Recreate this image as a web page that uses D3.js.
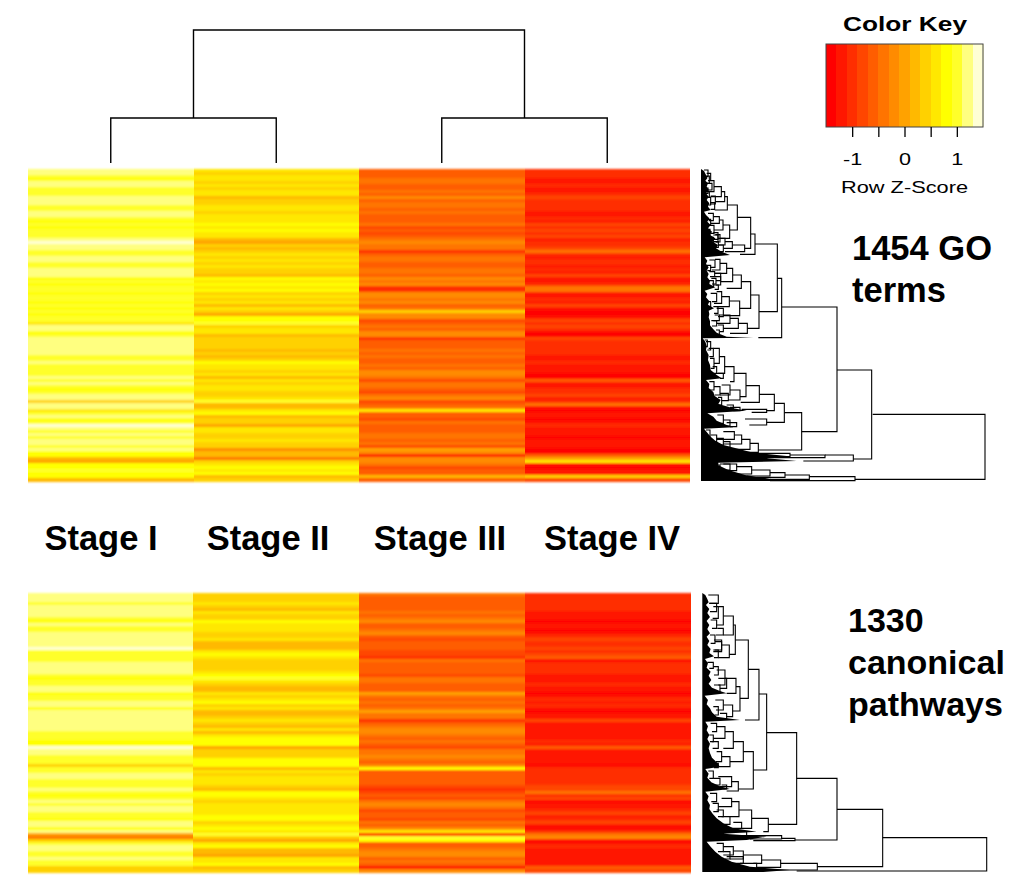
<!DOCTYPE html>
<html><head><meta charset="utf-8">
<script src="https://cdn.jsdelivr.net/npm/d3@7/dist/d3.min.js"></script>
<style>html,body{margin:0;padding:0;background:#fff}svg{display:block}text{font-family:"Liberation Sans",Arial,sans-serif;fill:#000}</style>
</head><body><svg id="c" width="1024" height="886"></svg>
<script>
const stages = ["Stage I","Stage II","Stage III","Stage IV"];
const heatPalette = ["#FF0000","#FF1700","#FF2E00","#FF4600","#FF5D00","#FF7400","#FF8B00","#FFA200","#FFB900","#FFD100","#FFE800","#FFFF00","#FFFF2A","#FFFF80","#FFFFD5"];
const keyTicks = [-1,-0.5,0,0.5,1];
const keyTickLabels = ["-1","","0","","1"];

const goStageI = [1.2,1.2,1.0,0.8,1.2,1.2,1.0,1.0,1.0,1.2,1.2,1.2,1.0,1.0,1.2,1.2,1.0,0.8,1.0,0.8,1.0,1.0,1.0,1.2,1.4,1.2,1.2,1.0,1.0,1.2,1.2,1.0,1.0,1.2,1.2,1.2,0.8,1.0,0.8,1.0,1.0,0.8,1.0,1.0,0.8,1.0,0.8,1.0,0.8,1.0,1.0,0.6,1.2,1.2,
0.8,1.0,1.2,1.2,1.2,1.2,1.2,1.2,1.0,1.0,1.2,1.0,1.0,1.0,1.0,1.2,1.0,1.2,1.0,0.8,1.0,1.2,1.2,0.4,1.2,1.2,0.6,1.0,1.2,0.8,1.0,1.4,1.2,1.0,1.2,1.0,1.2,1.2,1.0,1.2,0.8,0.8,0.2,0.0,0.8,0.8,1.0,0.8,0.8,0.2];
const goStageII = [0.6,0.4,0.6,0.6,0.4,0.6,0.4,0.6,0.6,0.2,0.4,0.4,0.6,0.6,0.4,0.6,0.6,0.6,0.8,0.6,0.8,0.6,0.6,0.2,0.0,0.4,0.2,0.4,0.6,0.4,0.6,0.4,0.6,0.4,0.4,0.2,0.8,0.6,0.8,0.6,0.8,0.4,0.6,0.4,0.6,0.2,0.6,0.4,0.0,0.8,0.8,1.0,0.4,0.6,
0.6,0.2,0.4,0.4,0.4,0.4,0.2,0.4,0.2,0.4,0.8,0.6,0.6,0.4,0.6,0.2,0.6,0.4,0.6,0.6,0.4,0.4,0.6,1.0,0.2,0.2,0.6,0.8,0.2,0.4,0.4,0.0,0.6,0.6,0.4,0.4,0.6,0.4,0.4,-0.2,0.2,0.2,-0.4,0.4,0.6,0.8,0.6,0.8,0.2,0.4];
const goStageIII = [-0.6,-0.6,-0.6,-0.4,-0.4,-0.6,-0.6,-0.4,-0.6,-0.2,-0.6,-0.4,-0.4,-0.6,-0.4,-0.6,-0.6,-0.6,-0.4,-0.8,-0.6,-0.8,-0.6,-0.4,-0.2,-0.4,-0.4,-1.0,-0.6,-0.4,-0.4,-0.6,-0.6,-0.4,-0.4,-0.6,-0.2,-0.4,-0.2,-1.0,-1.0,-0.2,-0.2,-0.4,-0.2,-0.6,-0.4,0.4,-0.2,-0.2,-0.8,-0.6,-0.4,-0.6,
-0.2,-0.2,-1.0,-0.6,-0.6,-0.6,-0.4,-0.6,-0.4,-0.6,-0.6,-0.4,-0.6,-0.2,-0.2,-0.4,-0.8,-0.4,-0.4,-0.6,-0.8,-0.4,-0.2,-0.8,-0.6,-0.4,0.6,-0.6,-0.6,-0.8,-0.4,-0.6,-0.6,-0.6,-0.4,-0.4,-0.6,-0.4,-0.8,0.0,-0.2,-1.2,-0.2,-0.2,-0.4,-0.8,-0.6,-0.6,0.2,-0.6];
const goStageIV = [-1.0,-1.0,-1.0,-1.2,-1.2,-1.0,-1.2,-1.2,-1.0,-0.8,-1.0,-1.0,-1.0,-1.0,-1.2,-1.2,-1.0,-1.2,-0.8,-1.0,-0.8,-1.0,-0.8,-1.2,-1.0,-1.0,-0.8,-0.4,-1.0,-1.2,-1.0,-1.0,-1.2,-1.0,-1.2,-0.8,-1.2,-1.2,-1.0,-0.4,-0.4,-1.2,-1.2,-1.0,-1.2,-0.8,-1.2,-1.4,-1.4,-1.2,-0.8,-1.0,-0.8,-1.0,
-1.4,-1.4,-0.8,-1.0,-1.0,-1.0,-1.0,-1.0,-1.2,-1.2,-1.0,-1.2,-1.2,-1.2,-1.4,-1.4,-0.6,-1.2,-1.2,-1.0,-1.0,-0.8,-1.2,-1.0,-0.4,-1.2,-1.4,-1.2,-1.2,-1.4,-1.2,-1.0,-1.2,-1.2,-1.2,-1.4,-1.2,-1.2,-1.2,-1.4,-1.4,-0.6,0.0,0.6,-1.2,-1.4,-1.2,-1.2,0.4,-0.8];

const cpStageI = [1.2,1.2,1.2,1.0,1.2,1.2,1.2,1.2,1.0,0.8,1.2,1.0,1.0,1.2,1.2,1.2,1.2,1.2,1.4,1.0,1.0,1.0,1.0,1.2,1.2,1.2,1.2,1.0,0.8,1.0,1.0,1.2,1.2,0.8,1.0,1.0,1.2,1.2,0.8,1.2,1.2,1.2,1.2,1.2,1.2,1.2,1.0,
1.0,1.0,0.8,0.8,1.4,1.2,1.2,1.0,1.0,1.0,0.4,1.0,1.0,1.2,1.2,1.0,1.0,1.0,1.2,1.0,0.8,1.0,1.2,1.0,1.2,1.2,1.0,1.0,0.8,1.2,1.2,0.8,1.2,0.0,-0.4,0.4,1.0,1.2,1.2,1.0,1.0,1.2,1.0,1.0,0.4,0.4];
const cpStageII = [0.4,0.4,0.4,0.6,0.4,0.2,0.6,0.4,0.4,0.8,0.6,0.6,0.6,0.4,0.4,0.6,0.2,0.2,0.2,0.6,0.8,0.6,0.4,0.4,0.4,0.4,0.6,0.8,1.0,0.6,0.4,0.2,0.2,0.6,0.4,0.6,0.8,0.4,0.6,0.2,0.2,0.4,0.6,0.4,0.2,0.6,0.2,
0.6,0.8,0.8,0.8,0.0,0.4,0.4,0.4,0.8,0.8,0.8,0.2,0.6,0.4,0.6,0.6,0.6,0.4,0.2,0.8,0.8,0.6,0.4,0.6,0.6,0.6,0.6,0.8,0.8,0.4,0.6,0.8,0.6,1.0,0.4,0.0,0.6,0.8,0.2,0.2,0.0,0.6,0.6,0.8,0.2,0.4];
const cpStageIII = [-0.4,-0.6,-0.6,-0.6,-0.6,-0.6,-0.4,-0.6,-0.4,-0.2,-0.6,-0.6,-0.4,-0.2,-0.6,-0.8,-0.6,-0.6,-0.6,-0.8,-0.8,-1.0,-0.4,-0.6,-0.6,-0.6,-0.6,-0.8,-0.4,-0.4,-0.6,-0.6,-0.6,0.0,-0.4,-0.6,-0.4,-0.6,-0.4,0.0,-0.4,-0.4,-1.0,-0.6,-0.4,-0.2,-0.2,
-0.4,-0.6,-0.4,-0.6,-0.8,-0.4,-0.4,-0.2,-0.4,-0.6,-0.2,0.8,-0.6,-0.6,-0.6,-0.6,-0.6,-0.8,-1.0,-0.8,-0.6,-0.8,-0.4,-0.2,-0.4,-0.8,-0.6,-0.6,-0.8,-0.4,-0.6,-0.2,0.6,-1.2,1.0,0.8,-0.6,-0.6,-0.4,-0.2,-0.2,-0.6,-0.4,-0.6,-1.4,-0.2];
const cpStageIV = [-1.0,-1.0,-1.0,-1.0,-1.0,-1.0,-1.2,-1.2,-1.2,-1.4,-1.2,-1.2,-1.4,-1.2,-1.0,-0.8,-1.0,-1.0,-0.8,-1.0,-0.8,-0.6,-1.4,-1.0,-1.0,-1.0,-1.0,-1.2,-1.2,-1.2,-1.0,-1.2,-1.2,-1.4,-1.2,-1.0,-1.2,-1.0,-1.2,-1.4,-1.2,-1.2,-0.8,-1.2,-1.2,-1.2,-1.2,
-1.2,-1.2,-1.0,-1.2,-0.6,-1.2,-1.2,-1.2,-1.2,-1.2,-1.4,-1.0,-1.0,-1.0,-1.0,-1.0,-1.0,-0.8,-0.8,-0.4,-1.0,-0.8,-1.4,-1.2,-1.2,-1.0,-0.8,-1.2,-1.0,-0.8,-1.2,-1.4,-1.0,-0.4,-0.2,-1.4,-1.2,-1.0,-1.2,-1.2,-1.2,-1.2,-1.2,-1.2,-0.6,-0.8];

// merges: height, upper leaf position, lower leaf position, height of upper child, height of lower child
const goMerges = [[885,763,958,548,495],[545,630,897,441,490],[441,441,815,275,335],[275,355,533,262,205],[262,252,455,195,207],[195,222,283,182,150],[182,172,265,142,164],[142,135,210,112,119],[112,110,150,104,74],[104,95,125,94,76],[94,80,110,72,62],[72,62,95,62,58],[119,195,235,99,84],[99,180,210,88,72],[88,170,190,70,62],[84,225,245,70,72],[164,255,275,127,105],[127,245,265,105,100],[105,235,255,90,85],[207,405,505,182,172],[182,365,445,154,149],[154,345,385,128,110],[128,325,365,110,92],[110,310,340,90,75],[92,350,375,74,78],[149,423,467,118,100],[118,410,440,95,80],[172,490,520,145,120],[145,475,505,120,100],[120,465,490,88,80],[335,758,870,283,205],[283,730,787,253,230],[253,703,752,208,230],[208,677,727,168,152],[168,640,710,132,150],[132,620,665,104,120],[104,590,640,88,80],[88,565,610,70,72],[150,690,720,120,115],[120,675,705,95,90],[230,748,757,155,185],[230,777,795,165,178],[205,850,877,180,150],[180,838,868,155,120],[155,825,852,133,100],[133,815,838,100,80],[490,885,903,405,340],[405,885,893,300,190],[300,880,890,190,140],[495,950,962,358,240],[358,945,958,285,240],[285,938,952,240,200],[240,930,948,185,170],[185,920,942,140,120],[140,912,932,100,90],
[62,40,62,50,54],[58,95,112,50,52],[62,112,135,52,56],[74,128,148,60,62],[76,108,132,62,60],[58,48,70,48,50],[54,30,50,42,46],[66,70,90,50,54],[54,84,100,46,48],[70,160,182,54,56],[62,178,196,50,54],[72,196,220,60,62],[60,208,228,50,54],[84,218,238,70,66],[70,232,250,60,66],[90,224,246,76,78],[100,255,275,84,90],[85,245,262,70,74],[75,300,322,58,60],[90,298,330,75,66],[62,316,332,48,52],[92,340,362,74,78],[78,355,372,64,66],[74,335,350,58,60],[85,375,388,72,74],[70,362,380,56,60],[80,400,425,62,66],[95,395,430,80,72],[62,425,440,50,54],[100,445,470,80,84],[84,440,460,70,72],[88,465,482,74,70],[80,482,498,64,66],[100,495,515,84,90],[88,510,525,78,80],[52,540,560,44,46],[70,565,590,56,58],[62,545,570,48,52],[72,595,625,60,62],[80,620,640,68,70],[100,640,655,84,90],[72,665,690,58,60],[90,680,705,72,74],[115,700,722,90,96],[95,712,735,84,80],[130,735,748,110,100],[150,742,752,120,130],[100,765,790,82,84],[120,780,798,100,110],[140,788,800,110,120],[60,810,830,48,50],[80,825,845,62,66],[100,835,855,80,90],[120,845,862,100,110],[120,912,930,90,95],[90,915,925,70,80]];
const goFringe = [[27,33],[33,42],[45,48],[55,52],[62,46],[70,54],[80,50],[90,56],[100,48],[110,56],[120,50],[130,58],[140,54],[150,62],[155,42],[165,48],[175,58],[185,52],[195,62],[205,54],[215,66],[225,60],[235,76],[245,68],[255,84],[265,78],[275,95],[285,120],[292,44],[302,52],[312,48],[322,56],[332,50],[342,56],[352,52],[362,60],[372,58],[382,76],[392,44],[402,52],[412,48],[424,58],[434,54],[445,72],[452,56],[462,58],[472,56],[484,60],[496,60],[508,70],[518,80],[530,110],[533,190],[535,38],[545,46],[558,50],[570,48],[585,56],[600,54],[615,60],[630,62],[645,80],[655,95],[660,48],[672,58],[684,56],[696,70],[708,74],[720,92],[732,85],[745,130],[752,170],[760,52],[770,70],[782,80],[795,110],[802,130],[806,42],[818,52],[830,62],[842,76],[855,100],[868,150],[878,190],[888,290],[895,230],[903,320],[908,85],[916,85],[930,115],[945,165],[955,230],[963,280]];
const cpMerges = [[890,758,858,578,320],[578,673,845,441,382],[382,835,855,272,240],[272,825,847,215,200],[215,810,835,160,190],[160,798,822,130,120],[130,785,810,100,100],[441,580,765,320,315],[320,443,718,230,235],[230,327,555,207,190],[207,253,405,175,165],[175,165,340,136,150],[136,120,208,130,118],[130,93,150,100,100],[100,65,120,85,80],[118,180,218,95,85],[95,170,200,75,70],[150,305,378,138,128],[138,280,325,105,110],[105,255,300,80,85],[128,360,395,100,110],[190,500,612,160,145],[160,470,530,130,120],[130,440,490,105,100],[105,425,460,80,70],[120,515,545,95,85],[145,590,618,125,110],[125,575,605,85,90],[235,700,740,185,220],[185,675,730,147,155],[147,650,695,125,120],[125,640,665,95,85],[315,760,767,275,190],[275,752,762,170,180],
[85,30,55,55,58],[80,55,80,58,60],[85,65,100,70,68],[80,105,130,62,66],[100,130,150,82,78],[75,150,175,60,62],[95,165,195,72,74],[85,195,218,70,72],[70,232,250,52,58],[85,245,270,70,72],[110,280,310,85,90],[90,300,322,72,80],[100,345,375,76,78],[85,365,390,70,74],[110,385,402,90,95],[80,415,440,62,66],[70,450,470,58,60],[85,470,490,65,68],[95,500,530,80,78],[85,535,548,70,72],[70,558,580,55,58],[90,580,600,70,72],[110,600,612,95,100],[80,625,650,60,64],[85,655,680,68,70],[100,675,695,80,84],[120,695,718,95,100],[155,712,730,130,120],[170,740,752,120,140],[100,775,800,80,84],[120,800,822,100,105],[160,815,835,110,120],[200,835,850,150,170]];
const cpFringe = [[24,37],[30,46],[42,52],[52,56],[60,48],[72,58],[84,52],[96,60],[108,50],[120,58],[132,52],[145,60],[155,50],[168,58],[180,52],[192,62],[204,58],[214,72],[222,45],[235,54],[248,50],[260,62],[272,56],[285,64],[296,56],[308,66],[318,90],[325,110],[332,44],[345,54],[358,50],[370,60],[382,66],[395,80],[405,150],[410,46],[424,54],[436,50],[450,58],[462,52],[476,60],[490,56],[504,60],[518,66],[532,80],[545,90],[552,46],[566,56],[578,52],[592,64],[604,90],[612,120],[620,46],[634,56],[646,52],[660,60],[672,58],[686,68],[700,80],[715,100],[730,130],[740,200],[746,100],[755,230],[765,170],[770,50],[785,62],[800,76],[815,95],[830,125],[845,180],[855,300],[861,220]];
const stageTree = {height:133, children:[{height:45, children:[{height:0,name:stages[0]},{height:0,name:stages[1]}]},{height:45, children:[{height:0,name:stages[2]},{height:0,name:stages[3]}]}]};

const svg = d3.select("#c");
svg.append("defs").append("filter").attr("id","rowBlur").attr("x","-1%").attr("y","-2%").attr("width","102%").attr("height","104%")
  .append("feGaussianBlur").attr("stdDeviation","0 0.9");
const color = d3.scaleQuantize().domain([-1.5,1.5]).range(heatPalette);

function heatmap(columns, xRange, yRange){
  const x = d3.scaleBand().domain(stages).range(xRange);
  const g = svg.append("g").attr("shape-rendering","crispEdges").attr("filter","url(#rowBlur)");
  columns.forEach((vals,ci)=>{
    const y = d3.scaleBand().domain(d3.range(vals.length)).range(yRange);
    g.selectAll(null).data(vals).join("rect")
      .attr("x",x(stages[ci])).attr("width",x.bandwidth())
      .attr("y",(d,i)=>y(i)).attr("height",y.bandwidth()+0.5)
      .attr("fill",d=>color(d));
  });
  return x;
}
function rowTree(merges,fringe,xDom,xRange,yDom,yRange){
  const x = d3.scaleLinear().domain(xDom).range(xRange);
  const y = d3.scaleLinear().domain(yDom).range(yRange);
  const g = svg.append("g");
  g.append("path").datum(fringe).attr("fill","#000")
    .attr("d",d3.area().x0(x(xDom[0])).x1(d=>x(d[1])).y(d=>y(d[0])));
  g.selectAll(null).data(merges).join("path")
    .attr("fill","none").attr("stroke","#000").attr("stroke-width",1.1)
    .attr("d",d=>{const p=d3.path();p.moveTo(x(d[3]),y(d[1]));p.lineTo(x(d[0]),y(d[1]));p.lineTo(x(d[0]),y(d[2]));p.lineTo(x(d[4]),y(d[2]));return p.toString();});
}

const xTop = heatmap([goStageI,goStageII,goStageIII,goStageIV],[28,690],[169,481]);
heatmap([cpStageI,cpStageII,cpStageIII,cpStageIV],[27.5,691],[593,872]);
rowTree(goMerges,goFringe,[33,885],[701,985],[27,963],[169,481]);
rowTree(cpMerges,cpFringe,[37,890],[702.3,986.7],[24,861],[593,872]);

// column dendrogram
const hY = d3.scaleLinear().domain([0,133]).range([163,30]);
const colG = svg.append("g").attr("fill","none").attr("stroke","#000").attr("stroke-width",1.4);
(function walk(n){
  if(!n.children){ n.cx = xTop(n.name)+xTop.bandwidth()/2; return; }
  n.children.forEach(walk);
  const [a,b]=n.children; n.cx=(a.cx+b.cx)/2;
  const p=d3.path();p.moveTo(a.cx,hY(a.height));p.lineTo(a.cx,hY(n.height));p.lineTo(b.cx,hY(n.height));p.lineTo(b.cx,hY(b.height));
  colG.append("path").attr("d",p.toString());
})(stageTree);

// colour key
const keyX = d3.scaleLinear().domain([-1.5,1.5]).range([826,983]);
const keyG = svg.append("g");
keyG.append("g").attr("shape-rendering","crispEdges").selectAll("rect").data(heatPalette).join("rect")
  .attr("x",c=>keyX(color.invertExtent(c)[0])).attr("width",c=>keyX(color.invertExtent(c)[1])-keyX(color.invertExtent(c)[0])+0.5)
  .attr("y",44).attr("height",83).attr("fill",c=>c);
keyG.append("rect").attr("x",826).attr("y",44).attr("width",157).attr("height",83).attr("fill","none").attr("stroke","#444").attr("stroke-width",1);
const axis = d3.axisBottom(keyX).tickValues(keyTicks).tickSize(10).tickFormat((d,i)=>keyTickLabels[i]);
const ax = keyG.append("g").attr("transform","translate(0,127)").call(axis);
ax.select(".domain").remove();
ax.selectAll("line").attr("stroke","#000").attr("stroke-width",1.3);
ax.selectAll("text").attr("font-size",17).attr("y",38).attr("dy",0)
  .attr("transform","scale(1.27,1)").style("fill","#000").style("font-family",'"Liberation Sans",Arial,sans-serif');
ax.attr("font-family",null);

function label(t,x,y,size,weight,opts={}){
  const e=svg.append("text").attr("x",x).attr("y",y).attr("font-size",size).attr("font-weight",weight).text(t);
  if(opts.anchor) e.attr("text-anchor",opts.anchor);
  if(opts.len) e.attr("textLength",opts.len).attr("lengthAdjust","spacingAndGlyphs");
  return e;
}
label("Color Key",843,31,21,"bold",{len:124});
label("Row Z-Score",841,192.5,17,"normal",{len:127});
const stageCenters=[101,268,440,612];
stages.forEach((s,i)=>label(s,stageCenters[i],550,34.5,"bold",{anchor:"middle"}));
label("1454 GO",852,260,34.5,"bold");
label("terms",852,302,34.5,"bold");
label("1330",848,632,34,"bold");
label("canonical",848,674,34,"bold");
label("pathways",848,716,34,"bold");
</script></body></html>
